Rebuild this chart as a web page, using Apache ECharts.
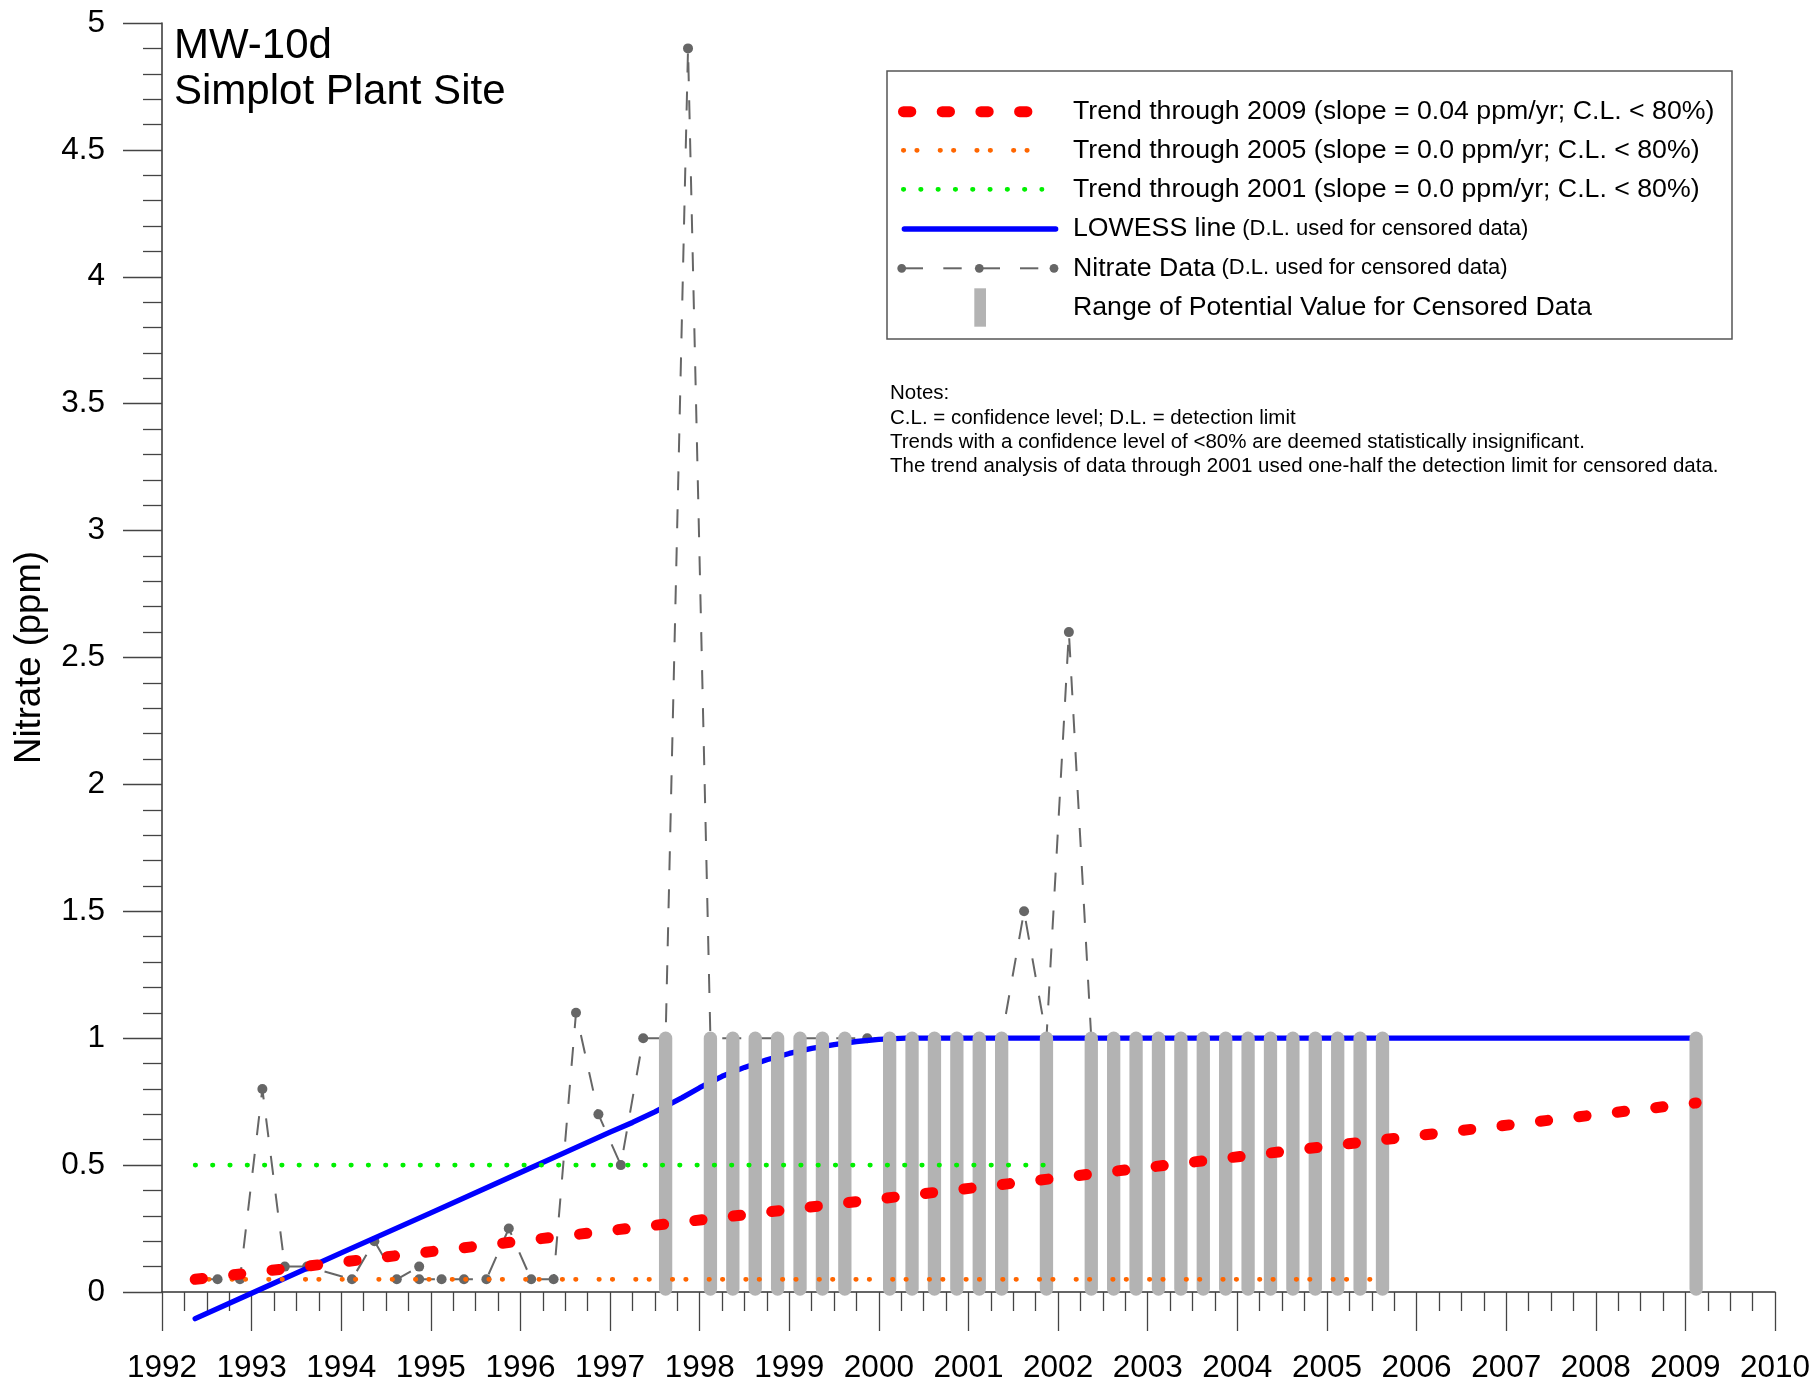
<!DOCTYPE html>
<html>
<head>
<meta charset="utf-8">
<script src="https://cdn.jsdelivr.net/npm/echarts@6/dist/echarts.min.js"></script>
<style>
html,body{margin:0;padding:0;background:#fff;}
#chart{width:1816px;height:1385px;}
</style>
</head>
<body>
<div id="chart"></div>
<script>
// ---------------- DATA ----------------
const sampleDates = [
  1992.37, 1992.62, 1992.87, 1993.12, 1993.37, 1993.62, 1994.12, 1994.37, 1994.62, 1994.87,
  1994.87, 1995.12, 1995.37, 1995.62, 1995.87, 1996.12, 1996.37, 1996.62, 1996.87, 1997.12,
  1997.37, 1997.62, 1997.87, 1998.12, 1998.37, 1998.62, 1998.87, 1999.12, 1999.37, 1999.62,
  1999.87, 2000.12, 2000.37, 2000.62, 2000.87, 2001.12, 2001.37, 2001.62, 2001.87, 2002.12,
  2002.37, 2002.62, 2002.87, 2003.12, 2003.37, 2003.62, 2003.87, 2004.12, 2004.37, 2004.62,
  2004.87, 2005.12, 2005.37, 2005.62, 2009.12
];
const nitrateValues = [
  0.05, 0.05, 0.05, 0.8, 0.1, 0.1, 0.05, 0.2, 0.05, 0.1,
  0.05, 0.05, 0.05, 0.05, 0.25, 0.05, 0.05, 1.1, 0.7, 0.5,
  1.0, 1.0, 4.9, 1.0, 1.0, 1.0, 1.0, 1.0, 1.0, 1.0,
  1.0, 1.0, 1.0, 1.0, 1.0, 1.0, 1.0, 1.5, 1.0, 2.6,
  1.0, 1.0, 1.0, 1.0, 1.0, 1.0, 1.0, 1.0, 1.0, 1.0,
  1.0, 1.0, 1.0, 1.0, 1.0
];
// 1 = censored (value shown is the detection limit)
const censoredFlags = [
  0, 0, 0, 0, 0, 0, 0, 0, 0, 0,
  0, 0, 0, 0, 0, 0, 0, 0, 0, 0,
  0, 1, 0, 1, 1, 1, 1, 1, 1, 1,
  0, 1, 1, 1, 1, 1, 1, 0, 1, 0,
  1, 1, 1, 1, 1, 1, 1, 1, 1, 1,
  1, 1, 1, 1, 1
];
const lowessDates  = [1992.37, 1993.0, 1994.0, 1995.0, 1996.0, 1996.5, 1997.0, 1997.25, 1997.5, 1997.65,
                      1997.8, 1998.0, 1998.25, 1998.5, 1998.75, 1999.0, 1999.25, 1999.5, 1999.75, 2000.0,
                      2000.3, 2009.12];
const lowessValues = [-0.105, -0.005, 0.154, 0.312, 0.471, 0.55, 0.63, 0.668, 0.71, 0.737,
                      0.765, 0.805, 0.85, 0.885, 0.915, 0.94, 0.96, 0.975, 0.987, 0.995,
                      1.0, 1.0];
const trend2009Dates = [1992.37, 2009.12];
const trend2009Values = [0.05, 0.745];
const trend2005Dates = [1992.37, 2005.62];
const trend2005Values = [0.05, 0.05];
const trend2001Dates = [1992.37, 2001.87];
const trend2001Values = [0.5, 0.5];
const xTicks = { min: 1992, max: 2010, interval: 1 };
const yTicks = { min: 0, max: 5, interval: 0.5 };

const titleLines = ['MW-10d', 'Simplot Plant Site'];
const legendLabels = [
  'Trend through 2009 (slope = 0.04 ppm/yr; C.L. < 80%)',
  'Trend through 2005 (slope = 0.0 ppm/yr; C.L. < 80%)',
  'Trend through 2001 (slope = 0.0 ppm/yr; C.L. < 80%)',
  ['LOWESS line', '(D.L. used for censored data)'],
  ['Nitrate Data', '(D.L. used for censored data)'],
  'Range of Potential Value for Censored Data'
];
const notesLines = [
  'Notes:',
  'C.L. = confidence level; D.L. = detection limit',
  'Trends with a confidence level of <80% are deemed statistically insignificant.',
  'The trend analysis of data through 2001 used one-half the detection limit for censored data.'
];

// ---------------- BUILD ----------------
const FONT = '"Liberation Sans", Arial, Helvetica, sans-serif';
const zip = (a, b) => a.map((v, i) => [v, b[i]]);
const nitrateData = zip(sampleDates, nitrateValues);
const censoredData = nitrateData.filter((d, i) => censoredFlags[i] === 1);

const chart = echarts.init(document.getElementById('chart'), null, { renderer: 'canvas' });

const graphic = [];
// title
titleLines.forEach((t, i) => {
  graphic.push({ type: 'text', x: 174, y: 46.5 + i * 45.5, z: 100,
    style: { text: t, font: '42px ' + FONT, fill: '#000', align: 'left', verticalAlign: 'middle' } });
});
// legend box
graphic.push({ type: 'rect', z: 90, shape: { x: 887, y: 71, width: 845, height: 268 },
  style: { fill: '#fff', stroke: '#555', lineWidth: 1.5 } });
const rowY = [111.7, 150.3, 189.3, 229, 268.3, 307.3];
// swatches
graphic.push({ type: 'line', z: 100, shape: { x1: 903.5, y1: rowY[0], x2: 1027, y2: rowY[0] },
  style: { stroke: '#ff0000', lineWidth: 11, lineCap: 'round', lineDash: [7.3, 31.4] } });
graphic.push({ type: 'line', z: 100, shape: { x1: 903.3, y1: rowY[1], x2: 1050, y2: rowY[1] },
  style: { stroke: '#ff6600', lineWidth: 4.7, lineCap: 'round', lineDash: [0.5, 12.9, 0.5, 22.8] } });
graphic.push({ type: 'line', z: 100, shape: { x1: 903.3, y1: rowY[2], x2: 1042, y2: rowY[2] },
  style: { stroke: '#00f000', lineWidth: 4.7, lineCap: 'round', lineDash: [0.5, 16.8] } });
graphic.push({ type: 'line', z: 100, shape: { x1: 904.3, y1: rowY[3], x2: 1055.7, y2: rowY[3] },
  style: { stroke: '#0000ff', lineWidth: 5.3, lineCap: 'round' } });
[[901.7, 923], [943.3, 961.7], [979.3, 1000], [1020, 1038.3]].forEach(s => {
  graphic.push({ type: 'line', z: 100, shape: { x1: s[0], y1: rowY[4], x2: s[1], y2: rowY[4] },
    style: { stroke: '#666', lineWidth: 2 } });
});
[901.7, 979.3, 1054].forEach(cx => {
  graphic.push({ type: 'circle', z: 101, shape: { cx: cx, cy: rowY[4], r: 4.4 }, style: { fill: '#666' } });
});
graphic.push({ type: 'rect', z: 100, shape: { x: 974.3, y: 288.3, width: 11.7, height: 38.4 },
  style: { fill: '#b3b3b3' } });
// legend texts
legendLabels.forEach((lab, i) => {
  if (Array.isArray(lab)) {
    graphic.push({ type: 'text', x: 1073, y: rowY[i], z: 100,
      style: { text: '{a|' + lab[0] + '} {b|' + lab[1] + '}', font: '22px ' + FONT, fill: '#000',
        verticalAlign: 'middle',
        rich: { a: { fontSize: 26.7, fontFamily: FONT, fill: '#000' }, b: { fontSize: 22, fontFamily: FONT, fill: '#000' } } } });
  } else {
    graphic.push({ type: 'text', x: 1073, y: rowY[i], z: 100,
      style: { text: lab, font: '26.7px ' + FONT, fill: '#000', verticalAlign: 'middle' } });
  }
});
// notes
const notesY = [392.9, 417.9, 442.2, 466.2];
notesLines.forEach((t, i) => {
  graphic.push({ type: 'text', x: 890, y: notesY[i], z: 100,
    style: { text: t, font: '20.5px ' + FONT, fill: '#000', verticalAlign: 'middle' } });
});

const option = {
  animation: false,
  backgroundColor: '#fff',
  textStyle: { fontFamily: FONT },
  grid: { left: 162, right: 41, top: 23, bottom: 93, containLabel: false, outerBoundsMode: 'none' },
  xAxis: {
    type: 'value', min: xTicks.min, max: xTicks.max, interval: xTicks.interval,
    splitLine: { show: false },
    axisLine: { show: true, onZero: true, lineStyle: { color: '#333', width: 1.5 } },
    axisTick: { show: true, inside: false, length: 39, lineStyle: { color: '#444', width: 1.3 } },
    minorTick: { show: true, splitNumber: 4, length: 19, lineStyle: { color: '#444', width: 1.3 } },
    minorSplitLine: { show: false },
    axisLabel: { show: true, margin: 60, fontSize: 31.5, color: '#000', fontFamily: FONT,
      showMinLabel: true, showMaxLabel: true, hideOverlap: false, formatter: v => String(v) }
  },
  yAxis: {
    type: 'value', min: yTicks.min, max: yTicks.max, interval: yTicks.interval,
    name: 'Nitrate (ppm)', nameLocation: 'middle', nameGap: 114, nameMoveOverlap: false,
    nameTextStyle: { fontSize: 36.5, color: '#000', fontFamily: FONT },
    splitLine: { show: false },
    axisLine: { show: true, lineStyle: { color: '#333', width: 1.5 } },
    axisTick: { show: true, inside: false, length: 39, lineStyle: { color: '#444', width: 1.3 } },
    minorTick: { show: true, splitNumber: 5, length: 19, lineStyle: { color: '#444', width: 1.3 } },
    minorSplitLine: { show: false },
    axisLabel: { show: true, margin: 57, fontSize: 31.5, color: '#000', fontFamily: FONT,
      showMinLabel: true, showMaxLabel: true }
  },
  series: [
    {
      name: 'Nitrate Data', type: 'line', data: nitrateData, z: 2,
      symbol: 'circle', symbolSize: 10, showSymbol: true, showAllSymbol: true,
      itemStyle: { color: '#666' },
      lineStyle: { color: '#666', width: 2, type: [19, 19] },
      clip: false, silent: true, emphasis: { disabled: true }
    },
    {
      name: 'LOWESS line', type: 'line', data: zip(lowessDates, lowessValues), z: 3,
      symbol: 'none', showSymbol: false, smooth: false,
      lineStyle: { color: '#0000ff', width: 5.3, cap: 'round', join: 'round' },
      clip: false, silent: true
    },
    {
      name: 'Censored range', type: 'custom', data: censoredData, z: 4,
      encode: { x: 0, y: 1 }, clip: false, silent: true,
      renderItem: function (params, api) {
        const x = api.value(0);
        const top = api.coord([x, api.value(1)]);
        const bot = api.coord([x, 0]);
        return { type: 'line', shape: { x1: bot[0], y1: bot[1] - 3, x2: top[0], y2: top[1] },
          style: { stroke: '#b3b3b3', lineWidth: 13.3, lineCap: 'round' } };
      }
    },
    {
      name: 'Trend through 2001', type: 'line', data: zip(trend2001Dates, trend2001Values), z: 5,
      symbol: 'none', showSymbol: false,
      lineStyle: { color: '#00f000', width: 4.7, type: [0.5, 16.8], cap: 'round' },
      clip: false, silent: true
    },
    {
      name: 'Trend through 2005', type: 'line', data: zip(trend2005Dates, trend2005Values), z: 6,
      symbol: 'none', showSymbol: false,
      lineStyle: { color: '#ff6600', width: 4.7, type: [0.5, 12.9, 0.5, 22.8], cap: 'round' },
      clip: false, silent: true
    },
    {
      name: 'Trend through 2009', type: 'line', data: zip(trend2009Dates, trend2009Values), z: 7,
      symbol: 'none', showSymbol: false,
      lineStyle: { color: '#ff0000', width: 11, type: [7.3, 31.4], cap: 'round' },
      clip: false, silent: true
    }
  ],
  graphic: graphic
};
chart.setOption(option);
</script>
</body>
</html>
